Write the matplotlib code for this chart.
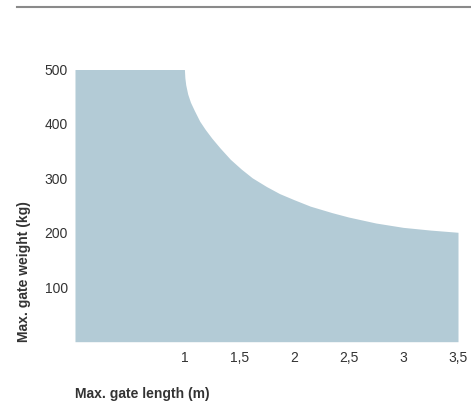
import matplotlib
matplotlib.use("Agg")
import matplotlib.pyplot as plt
from matplotlib.lines import Line2D

plt.rcParams['font.family'] = ['Liberation Sans', 'DejaVu Sans']

# gate length (m) vs max. gate weight (kg)
gate_length = [0.0, 1.0, 1.004, 1.012, 1.03, 1.055, 1.09, 1.14, 1.19, 1.25,
               1.325, 1.42, 1.52, 1.62, 1.75, 1.87, 2.0, 2.15, 2.35, 2.5,
               2.75, 3.0, 3.25, 3.5]
gate_weight = [500, 500, 485, 472, 455, 440, 425, 405, 390, 374,
               356, 335, 317, 301, 285, 272, 261, 249, 237, 229,
               218, 210, 205, 201]

x_ticks = [1, 1.5, 2, 2.5, 3, 3.5]
x_tick_labels = ["1", "1,5", "2", "2,5", "3", "3,5"]
y_ticks = [100, 200, 300, 400, 500]

fill_col = "#b3cbd6"
txt_col = "#333333"

fig = plt.figure(figsize=(4.71, 4.19), dpi=100)
ax = fig.add_axes([0.1592, 0.1845, 0.8132, 0.6496])

ax.fill_between(gate_length, 0, gate_weight, color=fill_col, linewidth=0)

ax.set_xlim(0, 3.5)
ax.set_ylim(0, 500)
ax.set_xticks(x_ticks)
ax.set_xticklabels(x_tick_labels)
ax.set_yticks(y_ticks)
for s in ax.spines.values():
    s.set_visible(False)
ax.tick_params(axis='both', length=0, labelsize=10, colors=txt_col)
ax.tick_params(axis='x', pad=7)
ax.tick_params(axis='y', pad=5)

fig.text(0.159, 1 - 394 / 419, "Max. gate length (m)", fontsize=10,
         fontweight='bold', color=txt_col, ha='left', va='center')
fig.text(24 / 471, 1 - 342 / 419, "Max. gate weight (kg)", fontsize=10,
         fontweight='bold', color=txt_col, rotation=90, ha='center', va='bottom')

# grey rule at the top
fig.add_artist(Line2D([17 / 471, 1.0], [1 - 7.5 / 419, 1 - 7.5 / 419],
                      transform=fig.transFigure, color="#8a8a8a", linewidth=1.5))

fig.savefig("out.png", dpi=100)
